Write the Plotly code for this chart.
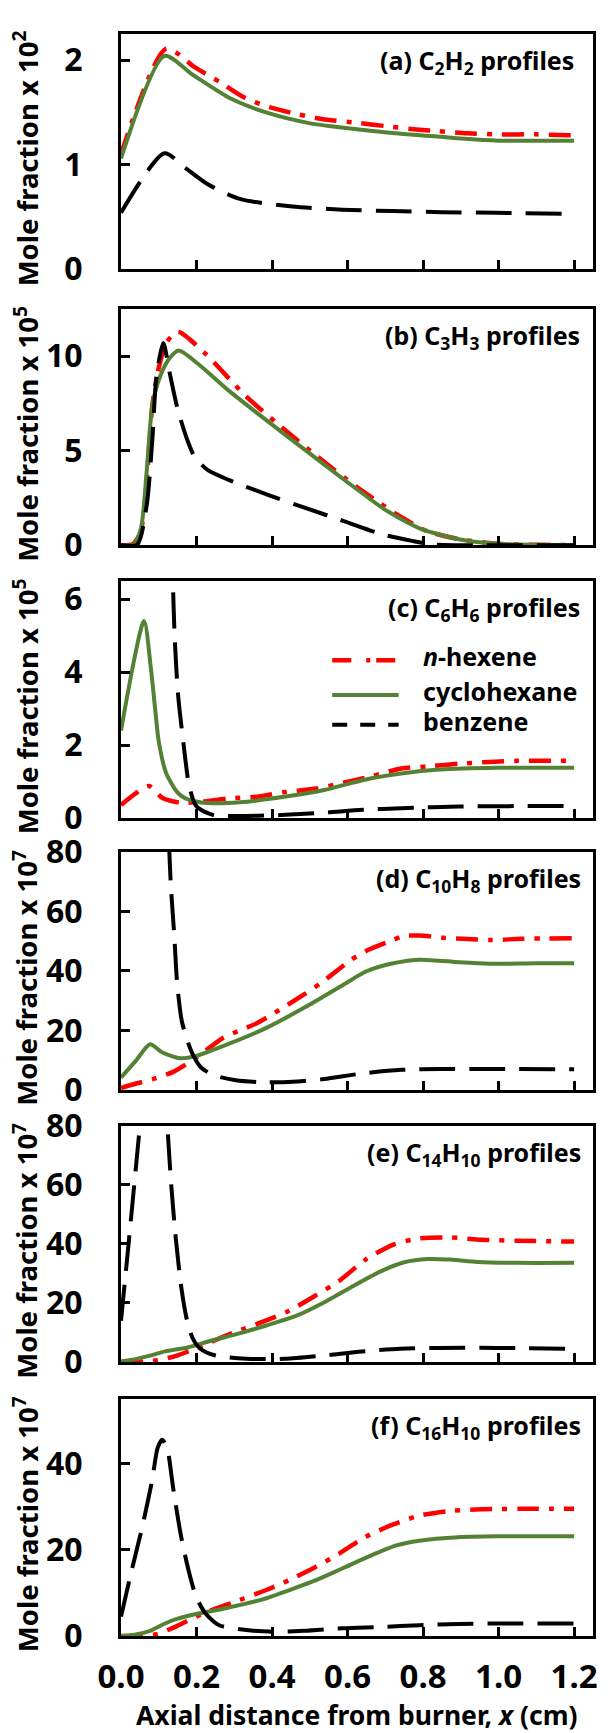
import plotly.graph_objects as go

W, H = 608, 1733
ML, MR, MT, MB = 121, 11, 22, 97
FONT = "Noto Sans"

RED = "#FF0000"
GREEN = "#548235"
BLACK = "#000000"

X_TICKS = [0.0, 0.2, 0.4, 0.6, 0.8, 1.0, 1.2]

# (a) C2H2, mole fraction x 1e2
C2H2_HEX_X = [0, 0.12, 0.196, 0.262, 0.328, 0.393, 0.47, 0.546, 0.627, 0.698, 0.774, 0.84, 0.916, 1.0, 1.1, 1.2]
C2H2_HEX_Y = [1.10, 2.11, 1.93, 1.79, 1.64, 1.55, 1.48, 1.43, 1.40, 1.37, 1.34, 1.32, 1.30, 1.29, 1.29, 1.28]
C2H2_CYC_X = [0, 0.115, 0.19, 0.292, 0.393, 0.495, 0.596, 0.698, 0.8, 0.9, 1.0, 1.2]
C2H2_CYC_Y = [1.06, 2.04, 1.86, 1.63, 1.49, 1.40, 1.35, 1.31, 1.28, 1.25, 1.23, 1.23]
C2H2_BEN_X = [0, 0.115, 0.17, 0.231, 0.317, 0.454, 0.586, 0.718, 0.85, 0.99, 1.2]
C2H2_BEN_Y = [0.54, 1.11, 0.97, 0.81, 0.67, 0.60, 0.57, 0.556, 0.546, 0.54, 0.53]

# (b) C3H3, mole fraction x 1e5
C3H3_HEX_X = [0, 0.03, 0.05, 0.063, 0.083, 0.099, 0.12, 0.15, 0.22, 0.328, 0.41, 0.51, 0.623, 0.68, 0.745, 0.81, 0.9, 1.0, 1.1, 1.2]
C3H3_HEX_Y = [0, 0.05, 0.6, 2.1, 7.4, 9.3, 10.7, 11.3, 10.2, 7.94, 6.5, 4.85, 3.1, 2.3, 1.45, 0.75, 0.3, 0.07, 0.02, 0]
C3H3_CYC_X = [0, 0.033, 0.053, 0.068, 0.083, 0.104, 0.129, 0.153, 0.206, 0.287, 0.389, 0.49, 0.592, 0.694, 0.745, 0.796, 0.898, 1.0, 1.1, 1.2]
C3H3_CYC_Y = [0, 0.03, 0.9, 3.9, 7.4, 8.95, 9.9, 10.3, 9.56, 8.15, 6.55, 5.0, 3.45, 1.95, 1.35, 0.85, 0.3, 0.07, 0.02, 0]
C3H3_BEN_X = [0, 0.043, 0.068, 0.083, 0.094, 0.112, 0.129, 0.15, 0.175, 0.195, 0.23, 0.287, 0.389, 0.49, 0.592, 0.694, 0.775, 0.826, 0.9, 1.2]
C3H3_BEN_Y = [0, 0.03, 2.1, 5.6, 8.95, 10.7, 9.1, 7.2, 5.6, 4.67, 3.97, 3.44, 2.66, 1.96, 1.26, 0.56, 0.21, 0.03, 0, 0]

# (c) C6H6, mole fraction x 1e5
C6H6_HEX_X = [0, 0.039, 0.074, 0.11, 0.16, 0.212, 0.283, 0.365, 0.436, 0.518, 0.589, 0.665, 0.742, 0.818, 0.895, 0.976, 1.05, 1.2]
C6H6_HEX_Y = [0.36, 0.68, 0.88, 0.55, 0.42, 0.45, 0.54, 0.59, 0.72, 0.81, 0.97, 1.15, 1.36, 1.42, 1.49, 1.54, 1.57, 1.57]
C6H6_CYC_X = [0, 0.061, 0.079, 0.09, 0.1, 0.12, 0.15, 0.171, 0.212, 0.263, 0.334, 0.436, 0.538, 0.64, 0.742, 0.844, 0.997, 1.2]
C6H6_CYC_Y = [2.4, 5.4, 4.12, 3.03, 2.1, 1.22, 0.7, 0.54, 0.43, 0.41, 0.45, 0.59, 0.77, 1.04, 1.22, 1.33, 1.38, 1.38]
C6H6_BEN_X = [0, 0.1, 0.13, 0.137, 0.142, 0.151, 0.166, 0.181, 0.2, 0.243, 0.334, 0.436, 0.538, 0.64, 0.742, 0.895, 1.2]
C6H6_BEN_Y = [50, 20, 9, 6.6, 5.0, 3.4, 2.0, 0.86, 0.32, 0.09, 0.06, 0.09, 0.15, 0.23, 0.27, 0.32, 0.33]

# (d) C10H8, mole fraction x 1e7
C10H8_HEX_X = [0, 0.04, 0.09, 0.14, 0.2, 0.27, 0.31, 0.357, 0.4, 0.487, 0.53, 0.57, 0.61, 0.655, 0.72, 0.75, 0.79, 0.85, 0.905, 0.98, 1.06, 1.2]
C10H8_HEX_Y = [0.7, 2.2, 3.9, 6.2, 11.0, 17.5, 19.8, 22.3, 25.4, 32.3, 36.0, 39.9, 43.8, 47.1, 50.4, 51.8, 51.9, 51.2, 50.8, 50.4, 50.8, 51.0]
C10H8_CYC_X = [0, 0.039, 0.077, 0.11, 0.156, 0.2, 0.283, 0.385, 0.487, 0.589, 0.65, 0.721, 0.793, 0.895, 0.976, 1.1, 1.2]
C10H8_CYC_Y = [4.2, 9.8, 15.4, 12.6, 10.7, 11.5, 15.4, 20.9, 27.8, 35.4, 39.9, 42.6, 43.8, 42.9, 42.4, 42.6, 42.6]
C10H8_BEN_X = [0, 0.05, 0.1, 0.128, 0.132, 0.141, 0.149, 0.161, 0.176, 0.192, 0.212, 0.243, 0.304, 0.385, 0.467, 0.538, 0.64, 0.742, 0.844, 0.997, 1.2]
C10H8_BEN_Y = [200, 250, 160, 80, 68.8, 52, 35.4, 23.2, 16.5, 11.5, 7.6, 5.1, 3.3, 2.6, 2.9, 3.7, 5.6, 6.8, 7.1, 7.1, 7.0]

# (e) C14H10, mole fraction x 1e7
C14H10_HEX_X = [0, 0.046, 0.097, 0.148, 0.2, 0.24, 0.301, 0.383, 0.444, 0.516, 0.577, 0.648, 0.72, 0.791, 0.873, 0.955, 1.047, 1.2]
C14H10_HEX_Y = [0, 0.1, 0.6, 2.2, 4.7, 6.9, 10.1, 14.0, 17.3, 22.6, 27.4, 34.7, 39.7, 41.9, 42.2, 41.4, 41.1, 40.8]
C14H10_CYC_X = [0, 0.036, 0.077, 0.117, 0.179, 0.24, 0.301, 0.383, 0.465, 0.536, 0.607, 0.689, 0.75, 0.812, 0.873, 0.944, 1.047, 1.2]
C14H10_CYC_Y = [0.2, 0.9, 2.2, 3.6, 5.0, 7.3, 9.3, 12.3, 15.7, 20.1, 25.2, 30.8, 33.8, 34.9, 34.7, 33.9, 33.6, 33.6]
C14H10_BEN_X = [0, 0.02, 0.05, 0.08, 0.1, 0.123, 0.133, 0.145, 0.16, 0.175, 0.19, 0.21, 0.25, 0.332, 0.434, 0.536, 0.638, 0.74, 0.842, 0.995, 1.2]
C14H10_BEN_Y = [14, 40, 80, 120, 120, 79.4, 60, 42, 25, 14, 8, 4.5, 2.2, 1.1, 1.1, 2.2, 3.6, 4.5, 4.8, 4.8, 4.5]

# (f) C16H10, mole fraction x 1e7
C16H10_HEX_X = [0, 0.056, 0.097, 0.148, 0.199, 0.24, 0.301, 0.383, 0.444, 0.515, 0.576, 0.648, 0.719, 0.79, 0.872, 0.954, 1.097, 1.2]
C16H10_HEX_Y = [0, 0, 0.5, 2.3, 4.5, 6.0, 7.9, 10.6, 12.9, 16.0, 19.0, 23.0, 25.8, 27.9, 29.0, 29.4, 29.5, 29.5]
C16H10_CYC_X = [0, 0.036, 0.077, 0.107, 0.138, 0.199, 0.28, 0.383, 0.444, 0.515, 0.587, 0.658, 0.729, 0.79, 0.893, 0.995, 1.2]
C16H10_CYC_Y = [0, 0.3, 1.2, 2.5, 3.7, 5.1, 6.5, 8.7, 10.6, 12.9, 15.7, 18.5, 21.0, 22.1, 22.9, 23.1, 23.1]
C16H10_BEN_X = [0, 0.026, 0.056, 0.082, 0.097, 0.109, 0.122, 0.138, 0.158, 0.179, 0.199, 0.224, 0.26, 0.332, 0.403, 0.485, 0.587, 0.689, 0.79, 0.893, 1.046, 1.2]
C16H10_BEN_Y = [4.5, 14.4, 25.2, 35.9, 43.6, 45.5, 43.6, 34.4, 23.6, 15.2, 9.1, 5.2, 2.5, 1.4, 1.0, 1.2, 1.8, 2.1, 2.5, 2.8, 2.9, 2.9]

PANELS = [
    dict(label="(a) C<sub>2</sub>H<sub>2</sub> profiles", exp="2", yr=[0, 2.25], yt=[0, 1, 2],
         top=22, bot=259, lab_r=580,
         hex=(C2H2_HEX_X, C2H2_HEX_Y), cyc=(C2H2_CYC_X, C2H2_CYC_Y), ben=(C2H2_BEN_X, C2H2_BEN_Y)),
    dict(label="(b) C<sub>3</sub>H<sub>3</sub> profiles", exp="5", yr=[0, 12.5], yt=[0, 5, 10],
         top=299, bot=537, lab_r=586,
         hex=(C3H3_HEX_X, C3H3_HEX_Y), cyc=(C3H3_CYC_X, C3H3_CYC_Y), ben=(C3H3_BEN_X, C3H3_BEN_Y)),
    dict(label="(c) C<sub>6</sub>H<sub>6</sub> profiles", exp="5", yr=[0, 6.5], yt=[0, 2, 4, 6],
         top=573, bot=812, lab_r=586,
         hex=(C6H6_HEX_X, C6H6_HEX_Y), cyc=(C6H6_CYC_X, C6H6_CYC_Y), ben=(C6H6_BEN_X, C6H6_BEN_Y)),
    dict(label="(d) C<sub>10</sub>H<sub>8</sub> profiles", exp="7", yr=[0, 80], yt=[0, 20, 40, 60, 80],
         top=846, bot=1086, lab_r=587,
         hex=(C10H8_HEX_X, C10H8_HEX_Y), cyc=(C10H8_CYC_X, C10H8_CYC_Y), ben=(C10H8_BEN_X, C10H8_BEN_Y)),
    dict(label="(e) C<sub>14</sub>H<sub>10</sub> profiles", exp="7", yr=[0, 80], yt=[0, 20, 40, 60, 80],
         top=1122, bot=1360, lab_r=587,
         hex=(C14H10_HEX_X, C14H10_HEX_Y), cyc=(C14H10_CYC_X, C14H10_CYC_Y), ben=(C14H10_BEN_X, C14H10_BEN_Y)),
    dict(label="(f) C<sub>16</sub>H<sub>10</sub> profiles", exp="7", yr=[0, 55], yt=[0, 20, 40],
         top=1397, bot=1636, lab_r=587,
         hex=(C16H10_HEX_X, C16H10_HEX_Y), cyc=(C16H10_CYC_X, C16H10_CYC_Y), ben=(C16H10_BEN_X, C16H10_BEN_Y)),
]

PW = W - ML - MR
PH = H - MT - MB


def fx(p):
    return (p - ML) / PW


def fy(p):
    return (H - MB - p) / PH


def fmt_tick(v, decimals):
    return f"<b>{v:.{decimals}f}</b>"


STYLES = {
    "hex": dict(color=RED, width=4.5, dash="22px,10px,5px,10px"),
    "cyc": dict(color=GREEN, width=4, dash="solid"),
    "ben": dict(color=BLACK, width=4, dash="36px,14px"),
}

fig = go.Figure()
layout = dict(
    width=W, height=H,
    margin=dict(l=ML, r=MR, t=MT, b=MB, pad=0),
    paper_bgcolor="white", plot_bgcolor="white",
    showlegend=False,
    font=dict(family=FONT, color="black", size=26),
)
annotations = []
shapes = []

for i, p in enumerate(PANELS, start=1):
    xa = "x" if i == 1 else f"x{i}"
    ya = "y" if i == 1 else f"y{i}"
    for key in ("hex", "cyc", "ben"):
        xs, ys = p[key]
        fig.add_trace(go.Scatter(
            x=xs, y=ys, mode="lines", xaxis=xa, yaxis=ya,
            line=dict(shape="spline", smoothing=0.7, **STYLES[key]),
            hoverinfo="skip",
        ))
    axis_common = dict(
        showline=True, mirror=True, linewidth=3, linecolor="black",
        ticks="inside", ticklen=9, tickwidth=3, tickcolor="black",
        showgrid=False, zeroline=False, tickangle=0,
    )
    layout["xaxis" if i == 1 else f"xaxis{i}"] = dict(
        axis_common, range=[0, 1.25], tickmode="array", tickvals=X_TICKS,
        ticktext=[fmt_tick(v, 1) for v in X_TICKS],
        anchor=ya, domain=[0, 1], showticklabels=(i == 6), ticklabelstandoff=9,
        tickfont=dict(family=FONT, size=33, color="black"),
    )
    layout["yaxis" if i == 1 else f"yaxis{i}"] = dict(
        axis_common, range=p["yr"], tickmode="array", tickvals=p["yt"],
        ticktext=[fmt_tick(v, 0) for v in p["yt"]], anchor=xa,
        domain=[fy(p["bot"]), fy(p["top"])], ticklabelstandoff=29,
        tickfont=dict(family=FONT, size=32, color="black"),
    )
    annotations.append(dict(
        text=f"<b>{p['label']}</b>", xref="paper", yref="paper",
        x=fx(p["lab_r"]), y=fy(p["top"] + 28), xanchor="right", yanchor="middle",
        showarrow=False, font=dict(family=FONT, size=25, color="black"),
    ))
    annotations.append(dict(
        text=f"<b>Mole fraction x 10<sup>{p['exp']}</sup></b>", xref="paper", yref="paper",
        x=fx(25), y=fy((p["top"] + p["bot"]) / 2 + 7), xanchor="center", yanchor="middle",
        textangle=-90, showarrow=False, font=dict(family=FONT, size=27.5, color="black"),
    ))

annotations.append(dict(
    text="<b>Axial distance from burner, <i>x</i> (cm)</b>", xref="paper", yref="paper",
    x=fx(359), y=fy(1716), xanchor="center", yanchor="middle",
    showarrow=False, font=dict(family=FONT, size=26.5, color="black"),
))

# legend drawn inside panel (c)
LEGEND_ITEMS = [
    ("<b><i>n</i>-hexene</b>", 657, dict(color=RED, width=4.5, dash="19px,15px,4px,6px")),
    ("<b>cyclohexane</b>", 692, dict(color=GREEN, width=4, dash="solid")),
    ("<b>benzene</b>", 722, dict(color=BLACK, width=4, dash="15px,13px")),
]
for text, ypx, ln in LEGEND_ITEMS:
    shapes.append(dict(type="line", xref="paper", yref="paper",
                       x0=fx(334), x1=fx(401), y0=fy(ypx - 4), y1=fy(ypx - 4), line=ln))
    annotations.append(dict(
        text=text, xref="paper", yref="paper", x=fx(424), y=fy(ypx - 8),
        xanchor="left", yanchor="middle", showarrow=False,
        font=dict(family=FONT, size=25, color="black"),
    ))

layout["annotations"] = annotations
layout["shapes"] = shapes
fig.update_layout(layout)
fig.write_html("out.html")
